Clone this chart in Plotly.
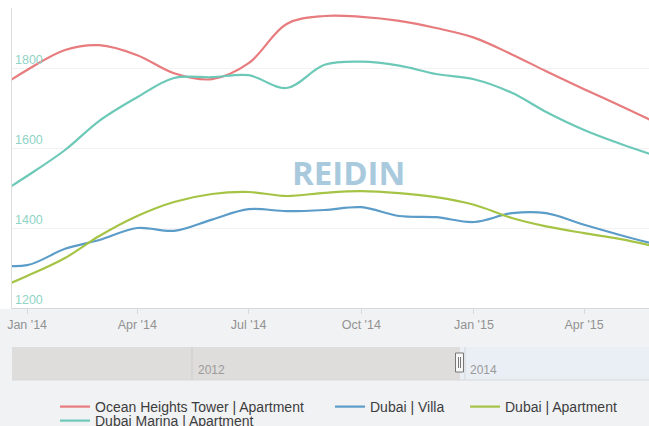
import plotly.graph_objects as go

# ---- data (monthly index values) ----
dates = ["2013-12-01", "2014-01-01", "2014-02-01", "2014-03-01", "2014-04-01", "2014-05-01",
         "2014-06-01", "2014-07-01", "2014-08-01", "2014-09-01", "2014-10-01", "2014-11-01",
         "2014-12-01", "2015-01-01", "2015-02-01", "2015-03-01", "2015-04-01", "2015-05-01",
         "2015-06-01"]
ocean_heights = [1735, 1795, 1845, 1857, 1832, 1787, 1772, 1812, 1910, 1930, 1928, 1918,
                 1900, 1876, 1834, 1792, 1747, 1705, 1660]
dubai_villa = [1310, 1307, 1348, 1370, 1400, 1393, 1421, 1447, 1442, 1445, 1452, 1430,
               1427, 1415, 1437, 1437, 1408, 1382, 1357]
dubai_apartment = [1240, 1280, 1325, 1380, 1430, 1465, 1485, 1490, 1480, 1488, 1492, 1487,
                   1477, 1458, 1425, 1404, 1387, 1372, 1352]
dubai_marina = [1470, 1530, 1595, 1668, 1727, 1775, 1777, 1782, 1750, 1808, 1816, 1806,
                1785, 1772, 1738, 1690, 1645, 1610, 1578]
y_ticks = [1200, 1400, 1600, 1800]

series = [
    ("Ocean Heights Tower | Apartment", ocean_heights, "#e77b7d", "legend"),
    ("Dubai | Villa", dubai_villa, "#5b9cc8", "legend2"),
    ("Dubai | Apartment", dubai_apartment, "#a5c445", "legend3"),
    ("Dubai Marina | Apartment", dubai_marina, "#6cc9b8", "legend4"),
]

W, H = 649, 426
L, R, T, B = 12, 0, 8, 118
pw, ph = W - L - R, H - T - B


def px(x):
    return (x - L) / pw


def py(y):
    return (H - B - y) / ph


fig = go.Figure()
for name, vals, color, leg in series:
    fig.add_trace(go.Scatter(x=dates, y=vals, name=name, mode="lines",
                             line=dict(color=color, width=2.2, shape="spline", smoothing=1.0),
                             legend=leg, hoverinfo="skip"))

shapes = []
# grey band below plot area
shapes.append(dict(type="rect", xref="paper", yref="paper", x0=px(0), x1=px(W), y0=py(309), y1=py(H),
                   fillcolor="#f1f2f4", line=dict(width=0), layer="below"))
# navigator
shapes.append(dict(type="rect", xref="paper", yref="paper", x0=px(12), x1=px(649), y0=py(347), y1=py(380),
                   fillcolor="#eaeff5", line=dict(width=0), layer="below"))
shapes.append(dict(type="rect", xref="paper", yref="paper", x0=px(12), x1=px(460), y0=py(347), y1=py(380),
                   fillcolor="#dfdddb", line=dict(width=0), layer="below"))
shapes.append(dict(type="line", xref="paper", yref="paper", x0=px(12), x1=px(649), y0=py(380), y1=py(380),
                   line=dict(color="#d6d8dc", width=1)))
shapes.append(dict(type="line", xref="paper", yref="paper", x0=px(192), x1=px(192), y0=py(347), y1=py(380),
                   line=dict(color="#cfcdcb", width=1)))
shapes.append(dict(type="line", xref="paper", yref="paper", x0=px(465), x1=px(465), y0=py(347), y1=py(380),
                   line=dict(color="#d4d6da", width=1)))
# handle
shapes.append(dict(type="rect", xref="paper", yref="paper", x0=px(455.5), x1=px(463.5), y0=py(353), y1=py(372),
                   fillcolor="#f7f7f7", line=dict(color="#777777", width=1)))
shapes.append(dict(type="line", xref="paper", yref="paper", x0=px(458.5), x1=px(458.5), y0=py(357), y1=py(368),
                   line=dict(color="#777777", width=1)))
shapes.append(dict(type="line", xref="paper", yref="paper", x0=px(460.5), x1=px(460.5), y0=py(357), y1=py(368),
                   line=dict(color="#777777", width=1)))

annotations = [
    dict(text="<b>REIDIN</b>", xref="paper", yref="paper", x=px(348), y=py(172), showarrow=False,
         font=dict(family="Open Sans", size=33, color="#a9cadd")),
    dict(text="2012", xref="paper", yref="paper", x=px(196), y=py(370), xanchor="left", yanchor="middle",
         showarrow=False, font=dict(family="Liberation Sans", size=12, color="#9a9a9a")),
    dict(text="2014", xref="paper", yref="paper", x=px(468), y=py(370), xanchor="left", yanchor="middle",
         showarrow=False, font=dict(family="Liberation Sans", size=12, color="#9a9a9a")),
]
# y-axis labels drawn inside the plot, just above each grid line
for v in y_ticks:
    annotations.append(dict(text=str(v), xref="paper", yref="y", x=px(13), y=v, xanchor="left",
                            yanchor="bottom", showarrow=False, yshift=-1,
                            font=dict(family="Liberation Sans", size=12.5, color="#8fd3c6")))

leg_font = dict(family="Liberation Sans", size=14, color="#3d3d3d")


def leg(xpix, ytop):
    return dict(x=px(xpix), y=py(ytop), xanchor="left", yanchor="top", orientation="h",
                bgcolor="rgba(0,0,0,0)", font=leg_font, itemwidth=30)


fig.update_layout(
    width=W, height=H,
    margin=dict(l=L, r=R, t=T, b=B, autoexpand=False),
    paper_bgcolor="#ffffff", plot_bgcolor="#ffffff",
    showlegend=True,
    legend=leg(55, 391), legend2=leg(330, 391), legend3=leg(465, 391), legend4=leg(55, 405),
    shapes=shapes, annotations=annotations,
    xaxis=dict(type="date", range=["2013-12-19 16:00", "2015-05-24"],
               tick0="2014-01-01", dtick="M3", tickformat="%b '%y",
               showgrid=False, showline=True, linecolor="#d5dae0", linewidth=1,
               ticks="outside", ticklen=5, tickcolor="#d5dae0", ticklabeloverflow="allow",
               tickfont=dict(family="Liberation Sans", size=12.5, color="#929292"),
               zeroline=False, fixedrange=True),
    yaxis=dict(range=[1200, 1950], tickvals=y_ticks, showticklabels=False,
               showgrid=True, gridcolor="#f2f2f2", gridwidth=1,
               showline=True, linecolor="#dcdcdc", linewidth=1,
               zeroline=False, fixedrange=True),
)

fig.write_html("out.html", config={"displayModeBar": False},
               post_script="document.body.style.margin='0';")
